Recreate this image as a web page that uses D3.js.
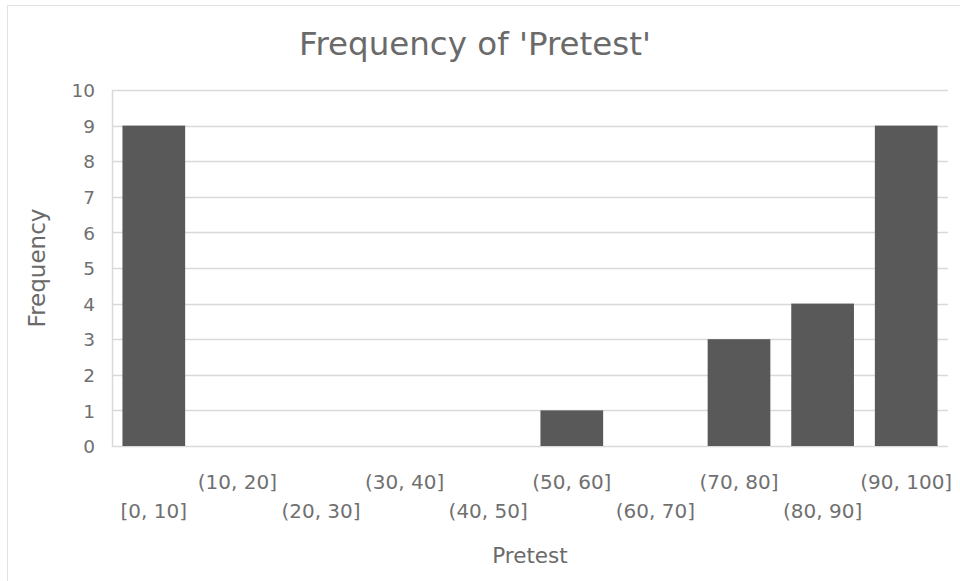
<!DOCTYPE html>
<html>
<head>
<meta charset="utf-8">
<script src="https://cdn.jsdelivr.net/npm/d3@7"></script>
<style>
  html, body { margin: 0; padding: 0; background: #fff; }
  svg { display: block; font-family: "DejaVu Sans", sans-serif; }
</style>
</head>
<body>
<svg id="chart" width="960" height="581"></svg>
<script>
// Histogram bins and their counts
const categories = ["[0, 10]", "(10, 20]", "(20, 30]", "(30, 40]", "(40, 50]",
                    "(50, 60]", "(60, 70]", "(70, 80]", "(80, 90]", "(90, 100]"];
const frequencies = [9, 0, 0, 0, 0, 1, 0, 3, 4, 9];
const yTicks = [0, 1, 2, 3, 4, 5, 6, 7, 8, 9, 10];

const svg = d3.select("#chart");
const plot = { left: 112, right: 948, top: 90, bottom: 446 };

const textColor = "#6a6a6a";
const tickColor = "#707070";
const gridColor = "#d9d9d9";
const fontFamily = "'DejaVu Sans', sans-serif";

// Outer chart frame
svg.append("rect")
  .attr("x", 7.5).attr("y", 5.5)
  .attr("width", 1000).attr("height", 1000)
  .attr("fill", "none").attr("stroke", "#e2e2e2").attr("stroke-width", 1);

const x = d3.scaleBand()
  .domain(categories)
  .range([plot.left, plot.right])
  .paddingInner(0.25)
  .paddingOuter(0.125);

const y = d3.scaleLinear()
  .domain([0, 10])
  .range([plot.bottom, plot.top]);

// Horizontal gridlines
svg.append("g")
  .selectAll("line")
  .data(yTicks)
  .join("line")
  .attr("x1", plot.left).attr("x2", plot.right)
  .attr("y1", d => Math.round(y(d)) + 0.5).attr("y2", d => Math.round(y(d)) + 0.5)
  .attr("stroke", gridColor).attr("stroke-width", 1.5);

// Left axis line
svg.append("line")
  .attr("x1", plot.left + 0.5).attr("x2", plot.left + 0.5)
  .attr("y1", plot.top).attr("y2", plot.bottom + 1)
  .attr("stroke", gridColor).attr("stroke-width", 1.5);

// Bars
svg.append("g")
  .selectAll("rect")
  .data(frequencies.map((v, i) => ({ cat: categories[i], v })))
  .join("rect")
  .attr("x", d => x(d.cat))
  .attr("y", d => y(d.v))
  .attr("width", x.bandwidth())
  .attr("height", d => y(0) - y(d.v))
  .attr("fill", "#595959");

// Y axis labels
const yAxis = d3.axisLeft(y).tickValues(yTicks).tickSize(0).tickPadding(0);
const gy = svg.append("g")
  .attr("transform", `translate(${plot.left - 17},0)`)
  .call(yAxis);
gy.select(".domain").remove();
gy.selectAll("text")
  .attr("fill", tickColor)
  .style("font-size", "18.5px")
  .style("font-family", fontFamily)
  .attr("dy", "0.36em");

// X axis labels, staggered on two rows
const xAxis = d3.axisBottom(x).tickSize(0).tickPadding(0);
const gx = svg.append("g")
  .attr("transform", `translate(0,${plot.bottom})`)
  .call(xAxis);
gx.select(".domain").remove();
gx.selectAll("text")
  .attr("fill", tickColor)
  .style("font-size", "20px")
  .style("font-family", fontFamily)
  .attr("dy", null)
  .attr("y", (d, i) => (i % 2 === 1 ? 43 : 72));

// Title
svg.append("text")
  .attr("x", 475).attr("y", 55)
  .attr("text-anchor", "middle")
  .attr("fill", textColor)
  .style("font-size", "32.5px")
  .text("Frequency of 'Pretest'");

// Axis titles
svg.append("text")
  .attr("x", (plot.left + plot.right) / 2).attr("y", 563)
  .attr("text-anchor", "middle")
  .attr("fill", textColor)
  .style("font-size", "21.5px")
  .text("Pretest");

svg.append("text")
  .attr("transform", `translate(45,${(plot.top + plot.bottom) / 2}) rotate(-90)`)
  .attr("text-anchor", "middle")
  .attr("fill", textColor)
  .style("font-size", "23px")
  .text("Frequency");
</script>
</body>
</html>
